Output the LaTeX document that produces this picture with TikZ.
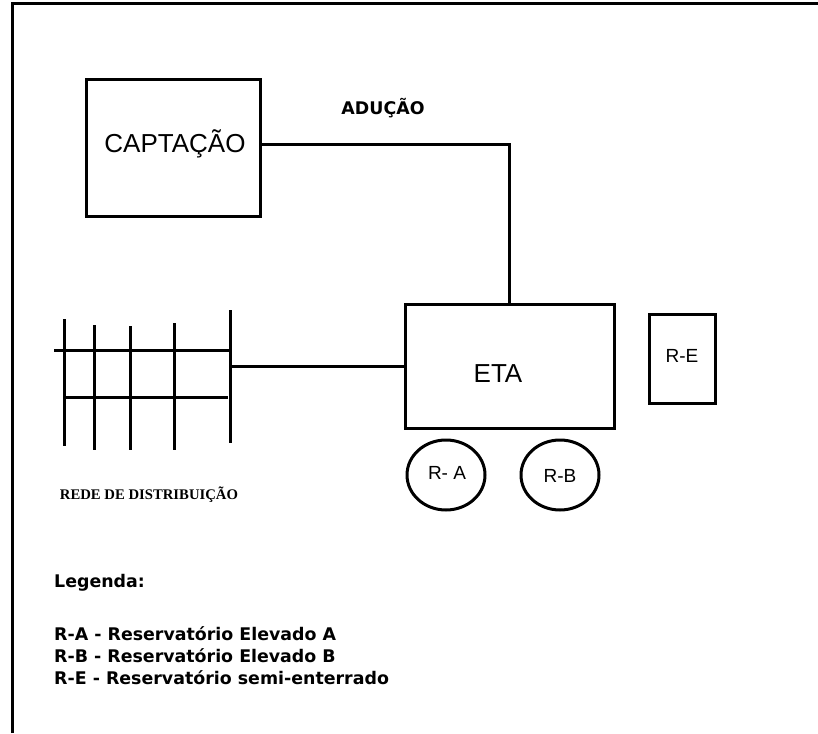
\documentclass[tikz,border=0pt]{standalone}
\usepackage{fontspec}
\setmainfont{Liberation Sans}
\newfontfamily\tahoma{DejaVu Sans}
\newfontfamily\serifb{Liberation Serif}
\usetikzlibrary{shapes.geometric}
\begin{document}
\begin{tikzpicture}[x=1pt,y=-1pt,
  thick line/.style={line width=3pt},
  boxnode/.style={draw,line width=3pt,rectangle,inner sep=0pt},
  resnode/.style={draw,line width=3pt,ellipse,inner sep=0pt,minimum width=78pt,minimum height=70pt},
  bigtxt/.style={font=\fontsize{26}{30}\selectfont},
  midtxt/.style={font=\fontsize{19}{22}\selectfont},
  boldtxt/.style={font=\tahoma\bfseries\fontsize{17.4}{20}\selectfont},
  legtxt/.style={font=\tahoma\bfseries\fontsize{17.4}{20}\selectfont,anchor=west,inner sep=0pt}
]
\useasboundingbox (0,0) rectangle (818,733);
\fill[white] (0,0) rectangle (818,733);
% frame
\draw[thick line] (12,733) -- (12,4) -- (818,4);

% boxes
\node[boxnode,minimum width=174pt,minimum height=136pt] (captacao) at (173,148) {};
\node[bigtxt] (captxt) at (175,144) {CAPTAÇÃO};
\node[boxnode,minimum width=209pt,minimum height=124pt] (eta) at (509.5,366) {};
\node[bigtxt] (etatxt) at (498,374) {ETA};
\node[boxnode,minimum width=66pt,minimum height=89pt] (re) at (682,358.5) {};
\node[midtxt] (retxt) at (682,356) {R-E};
\node[resnode] (ra) at (446,475) {};
\node[midtxt] (ratxt) at (447,473) {R- A};
\node[resnode] (rb) at (560,475) {};
\node[midtxt] (rbtxt) at (560,476) {R-B};

% aducao
\coordinate (bend) at (509.5,144);
\draw[thick line] (captacao.east |- bend) -- (bend) -- (eta.north -| bend);
\node[boldtxt] (adu) at (383,108) {ADUÇÃO};

% distribution grid
\draw[thick line] (64,319) -- (64,446);
\draw[thick line] (94,325) -- (94,450);
\draw[thick line] (130,326) -- (130,450);
\draw[thick line] (174,323) -- (174,450);
\draw[thick line] (230,310) -- (230,443);
\draw[thick line] (54,350) -- (230,350);
\draw[thick line] (64,397) -- (228,397);
\coordinate (trunk) at (230,366);
\draw[thick line] (trunk) -- (eta.west);
\node[font=\serifb\bfseries\fontsize{14.7}{17}\selectfont] (rede) at (149,495) {REDE DE DISTRIBUIÇÃO};

% legend
\node[legtxt] (leg) at (54,583) {Legenda:};
\node[legtxt] (leg1) at (54,634) {R-A - Reservatório Elevado A};
\node[legtxt] (leg2) at (54,656) {R-B - Reservatório Elevado B};
\node[legtxt] (leg3) at (54,678) {R-E - Reservatório semi-enterrado};
\end{tikzpicture}
\end{document}
